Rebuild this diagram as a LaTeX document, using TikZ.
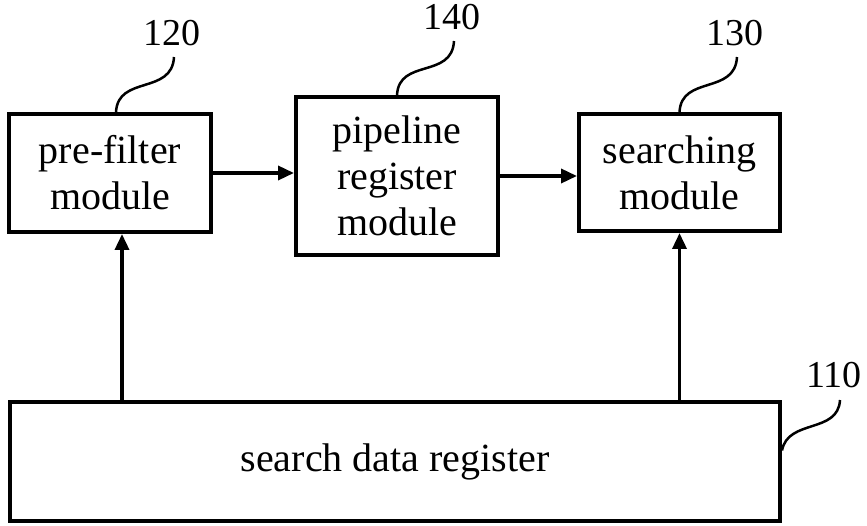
\documentclass[tikz,border=0pt]{standalone}
\usepackage{fontspec}
\setmainfont{Liberation Serif}
\usetikzlibrary{arrows.meta,calc}
\tikzset{
  blk/.style = {draw=black, line width=4pt, align=center, inner sep=0pt, font=\fontsize{40}{46}\selectfont},
  refno/.style = {inner sep=0pt, font=\fontsize{38}{40}\selectfont},
  flow/.style = {line width=3.5pt, -{Triangle[length=16pt,width=14pt]}},
  lead/.style = {line width=2.5pt}
}

\begin{document}
\begin{tikzpicture}[x=1pt, y=-1pt]
	\useasboundingbox (0,0) rectangle (867,526);
	% blocks
	\node [blk, minimum width=202pt, minimum height=118pt] (pre) at (110,173) {pre-filter\\module};
	\node [blk, minimum width=202pt, minimum height=158pt] (pipe) at (397,176) {pipeline\\register\\module};
	\node [blk, minimum width=201pt, minimum height=117pt] (srch) at (679.5,172.5) {searching\\module};
	\node [blk, minimum width=770pt, minimum height=119pt] (reg) at (395,461.5) {search data register};
	% reference numbers
	\node [refno] (l120) at (172,33) {120};
	\node [refno] (l140) at (452,17) {140};
	\node [refno] (l130) at (735,33) {130};
	\node [refno] (l110) at (834,375) {110};
	% connections
	\draw [flow] (pre.east) -- (pipe.west |- pre.east);
	\draw [flow] (pipe.east) -- (srch.west |- pipe.east);
	\draw [flow] ($(pre.south |- reg.north)+(12,0)$) -- ($(pre.south)+(12,0)$);
	\draw [flow] (srch.south |- reg.north) -- (srch.south);
	% leaders
	\draw [lead] ($(pre.north)+(6,0)$) .. controls +(2,-37) and +(-2,38) .. ([xshift=2pt,yshift=-11pt]l120.south);
	\draw [lead] (pipe.north) .. controls +(2,-37) and +(-2,38) .. ([xshift=2pt,yshift=-11pt]l140.south);
	\draw [lead] (srch.north) .. controls +(2,-37) and +(-2,38) .. ([xshift=2pt,yshift=-11pt]l130.south);
	\draw [lead] ($(reg.east)+(0,-11)$) .. controls +(6,-32) and +(-2,34) .. ([xshift=6pt,yshift=-12pt]l110.south);
\end{tikzpicture}
\end{document}
